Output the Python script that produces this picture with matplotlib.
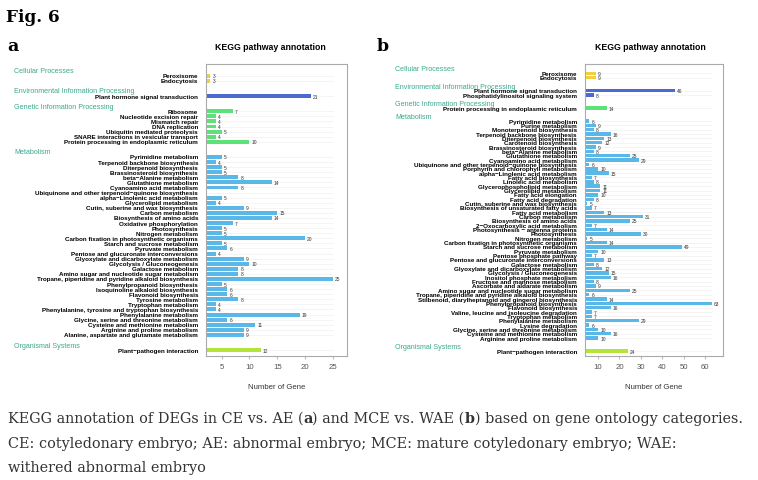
import matplotlib
matplotlib.use("Agg")
import matplotlib.pyplot as plt
from matplotlib import transforms

plt.rcParams.update({
    "font.family": ["Liberation Sans", "DejaVu Sans"],
})

# ---------------- data: panel a (CE vs. AE) ----------------
a_cellular_labels = ["Peroxisome", "Endocytosis"]
a_cellular_values = [3, 3]
a_env_labels = ["Plant hormone signal transduction"]
a_env_values = [21]
a_genetic_labels = ["Ribosome", "Nucleotide excision repair", "Mismatch repair", "DNA replication",
                    "Ubiquitin mediated proteolysis", "SNARE interactions in vesicular transport",
                    "Protein processing in endoplasmic reticulum"]
a_genetic_values = [7, 4, 4, 4, 5, 4, 10]
a_metab_labels = ["Pyrimidine metabolism", "Terpenoid backbone biosynthesis", "Diterpenoid biosynthesis",
                  "Brassinosteroid biosynthesis", "beta\u2212Alanine metabolism", "Glutathione metabolism",
                  "Cyanoamino acid metabolism", "Ubiquinone and other terpenoid\u2212quinone biosynthesis",
                  "alpha\u2212Linolenic acid metabolism", "Glycerolipid metabolism",
                  "Cutin, suberine and wax biosynthesis", "Carbon metabolism", "Biosynthesis of amino acids",
                  "Oxidative phosphorylation", "Photosynthesis", "Nitrogen metabolism",
                  "Carbon fixation in photosynthetic organisms", "Starch and sucrose metabolism",
                  "Pyruvate metabolism", "Pentose and glucuronate interconversions",
                  "Glyoxylate and dicarboxylate metabolism", "Glycolysis / Gluconeogenesis",
                  "Galactose metabolism", "Amino sugar and nucleotide sugar metabolism",
                  "Tropane, piperidine and pyridine alkaloid biosynthesis", "Phenylpropanoid biosynthesis",
                  "Isoquinoline alkaloid biosynthesis", "Flavonoid biosynthesis", "Tyrosine metabolism",
                  "Tryptophan metabolism", "Phenylalanine, tyrosine and tryptophan biosynthesis",
                  "Phenylalanine metabolism", "Glycine, serine and threonine metabolism",
                  "Cysteine and methionine metabolism", "Arginine and proline metabolism",
                  "Alanine, aspartate and glutamate metabolism"]
a_metab_values = [5, 4, 5, 5, 8, 14, 8, 2, 5, 4, 9, 15, 14, 7, 5, 5, 20, 5, 6, 4, 9, 10, 8, 8,
                  25, 5, 6, 6, 8, 4, 4, 19, 6, 11, 9, 9]
a_org_labels = ["Plant\u2212pathogen interaction"]
a_org_values = [12]

# ---------------- data: panel b (MCE vs. WAE) ----------------
b_cellular_labels = ["Peroxisome", "Endocytosis"]
b_cellular_values = [9, 9]
b_env_labels = ["Plant hormone signal transduction", "Phosphatidylinositol signaling system"]
b_env_values = [46, 8]
b_genetic_labels = ["Protein processing in endoplasmic reticulum"]
b_genetic_values = [14]
b_metab_labels = ["Pyrimidine metabolism", "Purine metabolism", "Monoterpenoid biosynthesis",
                  "Terpenoid backbone biosynthesis", "Diterpenoid biosynthesis", "Carotenoid biosynthesis",
                  "Brassinosteroid biosynthesis", "beta\u2212Alanine metabolism", "Glutathione metabolism",
                  "Cyanoamino acid metabolism", "Ubiquinone and other terpenoid\u2212quinone biosynthesis",
                  "Porphyrin and chlorophyll metabolism", "alpha\u2212Linolenic acid metabolism",
                  "Fatty acid biosynthesis", "Linoleic acid metabolism", "Glycerophospholipid metabolism",
                  "Glycerolipid metabolism", "Fatty acid elongation", "Fatty acid degradation",
                  "Cutin, suberine and wax biosynthesis", "Biosynthesis of unsaturated fatty acids",
                  "Fatty acid metabolism", "Carbon metabolism", "Biosynthesis of amino acids",
                  "2\u2212Oxocarboxylic acid metabolism", "Photosynthesis \u2212 antenna proteins",
                  "Photosynthesis", "Nitrogen metabolism", "Carbon fixation in photosynthetic organisms",
                  "Starch and sucrose metabolism", "Pyruvate metabolism", "Pentose phosphate pathway",
                  "Pentose and glucuronate interconversions", "Galactose metabolism",
                  "Glyoxylate and dicarboxylate metabolism", "Glycolysis / Gluconeogenesis",
                  "Inositol phosphate metabolism", "Fructose and mannose metabolism",
                  "Ascorbate and aldarate metabolism", "Amino sugar and nucleotide sugar metabolism",
                  "Tropane, piperidine and pyridine alkaloid biosynthesis",
                  "Stilbenoid, diarylheptanoid and gingerol biosynthesis", "Phenylpropanoid biosynthesis",
                  "Flavonoid biosynthesis", "Valine, leucine and isoleucine degradation",
                  "Tryptophan metabolism", "Phenylalanine metabolism", "Lysine degradation",
                  "Glycine, serine and threonine metabolism", "Cysteine and methionine metabolism",
                  "Arginine and proline metabolism"]
b_metab_values = [6, 9, 8, 16, 13, 12, 9, 8, 25, 29, 6, 10, 15, 7, 8, 11, 11, 10, 8, 5, 7, 13, 31,
                  25, 7, 14, 30, 5, 14, 49, 10, 7, 13, 8, 12, 15, 16, 8, 9, 25, 6, 14, 63, 16, 7,
                  7, 29, 6, 10, 16, 10]
b_org_labels = ["Plant\u2212pathogen interaction"]
b_org_values = [24]

headers = ["Cellular Processes", "Environmental Information Processing",
           "Genetic Information Processing", "Metabolism", "Organismal Systems"]
group_colors = ["#F3CF3E", "#4A6AD0", "#5DE27A", "#5AB8E8", "#B4E43A"]
header_color = "#3BA98C"

a_ticks = [5, 10, 15, 20, 25]
b_ticks = [10, 20, 30, 40, 50, 60]

W, H = 758, 481
fig = plt.figure(figsize=(W / 100, H / 100), dpi=100)


def fx(px):
    return px / W


def fy(py):
    return 1 - py / H


def draw_panel(rect, groups, xlim, ylim_pad, ticks, label_x, header_x, title_x):
    ax = fig.add_axes(rect)
    trans = transforms.blended_transform_factory(fig.transFigure, ax.transData)
    pos = 0
    vmax = max(max(v) for _, v in groups)
    for gi, (labels, values) in enumerate(groups):
        ys = list(range(pos, pos + len(values)))
        ax.hlines(ys, xlim[0], vmax, color="#ececec", lw=0.4, zorder=0)
        ax.barh(ys, values, height=0.78, color=group_colors[gi], zorder=2)
        for y, v, lab in zip(ys, values, labels):
            ax.annotate(str(v), (v, y), xytext=(1.5, 0), textcoords="offset points",
                        fontsize=3.5, va="center", ha="left", color="#333333")
            ax.text(fx(label_x), y, lab, transform=trans, ha="right", va="center",
                    fontsize=4.5, fontweight="bold", color="black")
        ax.text(fx(header_x), pos - 1, headers[gi], transform=trans, ha="left", va="center",
                fontsize=5.1, color=header_color)
        pos += len(values) + 2
    last = pos - 3
    ax.set_ylim(last + ylim_pad[1], -ylim_pad[0])
    ax.set_xlim(*xlim)
    ax.set_yticks([])
    ax.set_xticks(ticks)
    ax.tick_params(axis="x", length=2, width=0.5, color="#999999", labelsize=5.6,
                   labelcolor="#555555", pad=3.5)
    for s in ax.spines.values():
        s.set_color("#aaaaaa")
        s.set_linewidth(0.8)
    ax.set_xlabel("Number of Gene", fontsize=5.6, color="#333333", labelpad=9)
    fig.text(fx(title_x), fy(48), "KEGG pathway annotation", ha="center", va="center",
             fontsize=6.3, fontweight="bold")
    return ax


groups_a = [(a_cellular_labels, a_cellular_values), (a_env_labels, a_env_values),
            (a_genetic_labels, a_genetic_values), (a_metab_labels, a_metab_values),
            (a_org_labels, a_org_values)]
groups_b = [(b_cellular_labels, b_cellular_values), (b_env_labels, b_env_values),
            (b_genetic_labels, b_genetic_values), (b_metab_labels, b_metab_values),
            (b_org_labels, b_org_values)]

top, bottom = 65, 356.7
draw_panel([fx(206), fy(bottom), fx(347 - 206), (bottom - top) / H], groups_a,
           (2.2, 27.5), (2.3, 1.1), a_ticks, 198, 14, 270)
draw_panel([fx(585), fy(bottom), fx(722.7 - 585), (bottom - top) / H], groups_b,
           (3.9, 68.2), (2.15, 1.06), b_ticks, 577, 395, 650)

serif = ["DejaVu Serif"]
fig.text(fx(6), fy(21.7), "Fig. 6", fontsize=12.2, fontweight="bold", family=serif, va="baseline")
fig.text(fx(7), fy(50.7), "a", fontsize=12.5, fontweight="bold", family=serif, va="baseline")
fig.text(fx(377), fy(50.7), "b", fontsize=12.5, fontweight="bold", family=serif, va="baseline")

# caption, drawn piece by piece so the panel letters can be bold
renderer = fig.canvas.get_renderer()
cap_lines = [
    [("KEGG annotation of DEGs in CE vs. AE (", "normal"), ("a", "bold"),
     (") and MCE vs. WAE (", "normal"), ("b", "bold"), (") based on gene ontology categories.", "normal")],
    [("CE: cotyledonary embryo; AE: abnormal embryo; MCE: mature cotyledonary embryo; WAE:", "normal")],
    [("withered abnormal embryo", "normal")],
]
cap_base = [423, 448, 472]
for line, yb in zip(cap_lines, cap_base):
    x = fx(7.5)
    for txt, wt in line:
        t = fig.text(x, fy(yb), txt, fontsize=10.4, family=serif, fontweight=wt,
                     color="#333333", va="baseline")
        bb = t.get_window_extent(renderer)
        x = bb.x1 / W

fig.savefig("out.png", dpi=100)
